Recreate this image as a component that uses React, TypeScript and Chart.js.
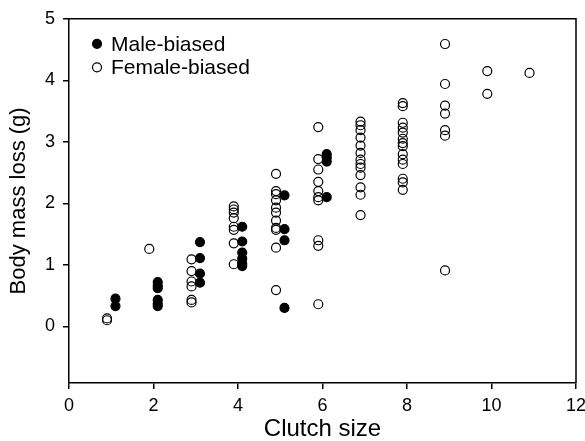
import React, { useEffect, useRef } from "react";
import { Chart, registerables } from "chart.js";

Chart.register(...registerables);

// Clutch size (jittered: female at n-0.1, male at n+0.1) and body mass loss (g)
const maleClutch = [
  1.1, 1.1,
  2.1, 2.1, 2.1, 2.1, 2.1, 2.1,
  3.1, 3.1, 3.1, 3.1,
  4.1, 4.1, 4.1, 4.1, 4.1, 4.1,
  5.1, 5.1, 5.1, 5.1,
  6.1, 6.1, 6.1, 6.1,
];
const maleMass = [
  0.45, 0.33,
  0.72, 0.66, 0.62, 0.43, 0.37, 0.33,
  1.37, 1.11, 0.86, 0.71,
  1.62, 1.38, 1.2, 1.1, 1.02, 0.98,
  2.13, 1.58, 1.4, 0.3,
  2.8, 2.74, 2.68, 2.1,
];

const femaleClutch = [
  0.9, 0.9,
  1.9,
  2.9, 2.9, 2.9, 2.9, 2.9, 2.9,
  3.9, 3.9, 3.9, 3.9, 3.9, 3.9, 3.9, 3.9,
  4.9, 4.9, 4.9, 4.9, 4.9, 4.9, 4.9, 4.9, 4.9, 4.9, 4.9,
  5.9, 5.9, 5.9, 5.9, 5.9, 5.9, 5.9, 5.9, 5.9, 5.9,
  6.9, 6.9, 6.9, 6.9, 6.9, 6.9, 6.9, 6.9, 6.9, 6.9, 6.9, 6.9, 6.9,
  7.9, 7.9, 7.9, 7.9, 7.9, 7.9, 7.9, 7.9, 7.9, 7.9, 7.9, 7.9, 7.9, 7.9,
  8.9, 8.9, 8.9, 8.9, 8.9, 8.9, 8.9,
  9.9, 9.9,
  10.9,
];
const femaleMass = [
  0.13, 0.1,
  1.26,
  1.09, 0.9, 0.73, 0.65, 0.43, 0.39,
  1.95, 1.9, 1.85, 1.76, 1.62, 1.57, 1.35, 1.01,
  2.48, 2.2, 2.15, 2.05, 1.93, 1.85, 1.72, 1.6, 1.57, 1.28, 0.59,
  3.24, 2.72, 2.55, 2.35, 2.2, 2.1, 2.05, 1.4, 1.31, 0.36,
  3.33, 3.27, 3.19, 3.07, 2.94, 2.82, 2.71, 2.64, 2.58, 2.46, 2.26, 2.14, 1.81,
  3.63, 3.58, 3.31, 3.23, 3.15, 3.05, 2.98, 2.93, 2.8, 2.71, 2.64, 2.4, 2.34, 2.22,
  4.59, 3.94, 3.59, 3.46, 3.19, 3.1, 0.91,
  4.15, 3.78,
  4.12,
];

const yTickValues = [0, 1, 2, 3, 4, 5];
const seriesLabels = ["Male-biased", "Female-biased"];

const FONT = "'Liberation Sans', Arial, Helvetica, sans-serif";

const framePlugin = {
  id: "frameAndLegend",
  afterDraw(chart: any) {
    const { ctx, chartArea } = chart;
    const { left, right, top, bottom } = chartArea;
    ctx.save();
    ctx.strokeStyle = "#000";
    ctx.lineWidth = 1.5;
    ctx.beginPath();
    ctx.moveTo(left, top);
    ctx.lineTo(right, top);
    ctx.lineTo(right, bottom);
    ctx.stroke();

    // legend
    const items = chart.data.datasets;
    ctx.font = `21px ${FONT}`;
    ctx.textBaseline = "middle";
    ctx.textAlign = "left";
    items.forEach((ds: any, i: number) => {
      const cx = left + 28;
      const cy = top + 25 + i * 23.5;
      ctx.beginPath();
      ctx.arc(cx, cy, 4.5, 0, Math.PI * 2);
      ctx.lineWidth = 1.2;
      ctx.strokeStyle = "#000";
      if (ds.backgroundColor === "#000") {
        ctx.fillStyle = "#000";
        ctx.fill();
      }
      ctx.stroke();
      ctx.fillStyle = "#000";
      ctx.fillText(ds.label, cx + 14, cy + 1);
    });
    ctx.restore();
  },
};

export default function App() {
  const canvasRef = useRef<HTMLCanvasElement | null>(null);

  useEffect(() => {
    document.body.style.margin = "0";
    const canvas = canvasRef.current;
    if (!canvas) return;
    const chart = new Chart(canvas, {
      type: "scatter",
      data: {
        datasets: [
          {
            label: seriesLabels[0],
            data: maleClutch.map((x, i) => ({ x, y: maleMass[i] })),
            backgroundColor: "#000",
            borderColor: "#000",
            borderWidth: 1.2,
            pointRadius: 4.5,
          },
          {
            label: seriesLabels[1],
            data: femaleClutch.map((x, i) => ({ x, y: femaleMass[i] })),
            backgroundColor: "rgba(0,0,0,0)",
            borderColor: "#000",
            borderWidth: 1.2,
            pointRadius: 4.5,
          },
        ],
      },
      options: {
        responsive: false,
        animation: false,
        devicePixelRatio: 1,
        layout: { padding: { top: 17, right: 9, left: 0, bottom: 0 } },
        plugins: {
          legend: { display: false },
          tooltip: { enabled: false },
        },
        scales: {
          x: {
            type: "linear",
            min: 0,
            max: 12,
            afterFit: (scale: any) => {
              scale.height = 58;
              scale.paddingLeft = 0;
              scale.paddingRight = 0;
            },
            ticks: {
              stepSize: 2,
              color: "#000",
              padding: 6,
              font: { family: FONT, size: 18 },
            },
            grid: {
              drawOnChartArea: false,
              drawTicks: true,
              tickLength: 6,
              color: "#000",
              lineWidth: 1.5,
            },
            border: { color: "#000", width: 1.5 },
            title: {
              display: true,
              text: "Clutch size",
              color: "#000",
              padding: { top: 0, bottom: 0 },
              font: { family: FONT, size: 24, lineHeight: 1 },
            },
          },
          y: {
            type: "linear",
            min: -0.92,
            max: 5,
            afterFit: (scale: any) => {
              scale.width = 69;
            },
            afterBuildTicks: (scale: any) => {
              scale.ticks = yTickValues.map((v) => ({ value: v }));
            },
            ticks: {
              color: "#000",
              padding: 8,
              font: { family: FONT, size: 18 },
            },
            grid: {
              drawOnChartArea: false,
              drawTicks: true,
              tickLength: 6,
              color: "#000",
              lineWidth: 1.5,
            },
            border: { color: "#000", width: 1.5 },
            title: {
              display: true,
              text: "Body mass loss (g)",
              color: "#000",
              padding: { top: 6, bottom: 0 },
              font: { family: FONT, size: 22 },
            },
          },
        },
      },
      plugins: [framePlugin],
    });
    return () => chart.destroy();
  }, []);

  return (
    <div style={{ width: 585, height: 441 }}>
      <canvas ref={canvasRef} width={585} height={441} style={{ display: "block" }} />
    </div>
  );
}
